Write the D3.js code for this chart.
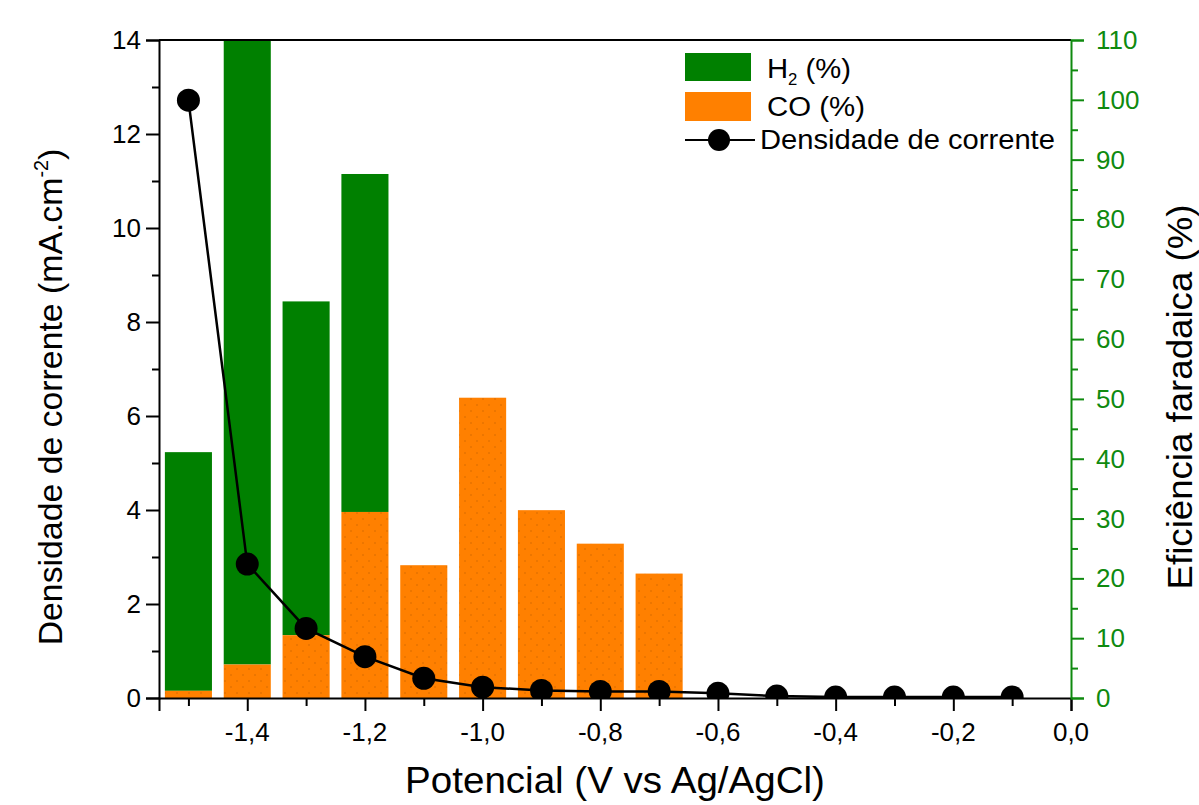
<!DOCTYPE html>
<html><head><meta charset="utf-8">
<script src="https://cdn.jsdelivr.net/npm/d3@7"></script>
<style>body{margin:0;background:#fff} svg{display:block} text{font-family:"Liberation Sans",Arial,sans-serif}</style>
</head><body><svg id="c" width="1199" height="805"></svg>
<script>
// ---- data ----
const potentials = [-1.5,-1.4,-1.3,-1.2,-1.1,-1.0,-0.9,-0.8,-0.7,-0.6,-0.5,-0.4,-0.3,-0.2,-0.1];
const density    = [12.72,2.85,1.48,0.88,0.42,0.23,0.16,0.14,0.14,0.10,0.04,0.02,0.02,0.02,0.02];
const barPotentials = [-1.5,-1.4,-1.3,-1.2,-1.1,-1.0,-0.9,-0.8,-0.7];
const coFE = [1.2,5.6,10.5,31.1,22.2,50.2,31.4,25.8,20.8];
const h2FE = [39.9,106,55.8,56.5,0,0,0,0,0];
const xTicks = [-1.4,-1.2,-1.0,-0.8,-0.6,-0.4,-0.2,0.0];
const xMinor = [-1.5,-1.3,-1.1,-0.9,-0.7,-0.5,-0.3,-0.1];
const yLeftTicks = [0,2,4,6,8,10,12,14];
const yLeftMinor = [1,3,5,7,9,11,13];
const yRightTicks = [0,10,20,30,40,50,60,70,80,90,100,110];
const yRightMinor = [5,15,25,35,45,55,65,75,85,95,105];

const GREEN = "#008000", ORANGE = "#ff8000", AXG = "#0f8a0f";
const FONT = '"Liberation Sans",Arial,sans-serif';
const m = {l:159, r:1071, t:40, b:698};
const svg = d3.select("#c");
const x  = d3.scaleLinear().domain([-1.55,0]).range([m.l,m.r]);
const yL = d3.scaleLinear().domain([0,14]).range([m.b,m.t]);
const yR = d3.scaleLinear().domain([0,110]).range([m.b,m.t]);

const defs = svg.append("defs");
defs.append("clipPath").attr("id","plot").append("rect")
  .attr("x",m.l).attr("y",m.t).attr("width",m.r-m.l).attr("height",m.b-m.t);
const pat = defs.append("pattern").attr("id","dots").attr("patternUnits","userSpaceOnUse")
  .attr("width",12).attr("height",12);
pat.append("rect").attr("width",12).attr("height",12).attr("fill",ORANGE);
pat.append("circle").attr("cx",3).attr("cy",3).attr("r",0.8).attr("fill","#d46a00");
pat.append("circle").attr("cx",9).attr("cy",9).attr("r",0.8).attr("fill","#d46a00");

const plot = svg.append("g").attr("clip-path","url(#plot)");
const bw = x(0.04) - x(0);
const bars = barPotentials.map((p,i)=>({p, co:coFE[i], h2:h2FE[i]}));
plot.selectAll("rect.h2").data(bars.filter(d=>d.h2>0)).join("rect")
  .attr("x",d=>x(d.p)-bw).attr("width",2*bw)
  .attr("y",d=>yR(d.co+d.h2)).attr("height",d=>yR(d.co)-yR(d.co+d.h2))
  .attr("fill",GREEN);
plot.selectAll("rect.co").data(bars).join("rect")
  .attr("x",d=>x(d.p)-bw).attr("width",2*bw)
  .attr("y",d=>yR(d.co)).attr("height",d=>yR(0)-yR(d.co))
  .attr("fill","url(#dots)");

const pts = potentials.map((p,i)=>({p, v:density[i]}));
plot.append("path").datum(pts)
  .attr("d", d3.line().x(d=>x(d.p)).y(d=>yL(d.v)))
  .attr("fill","none").attr("stroke","#000").attr("stroke-width",2.5);
plot.selectAll("circle.pt").data(pts).join("circle")
  .attr("cx",d=>x(d.p)).attr("cy",d=>yL(d.v)).attr("r",11.5).attr("fill","#000");

// ---- axes (ticks via d3.axis, labels drawn explicitly) ----
const fs = 26;
function styleAxis(g, color){
  g.selectAll("path.domain").attr("stroke",color).attr("stroke-width",2);
  g.selectAll(".tick line").attr("stroke",color).attr("stroke-width",2);
  g.selectAll(".tick text").remove();
}
const xfmt = d => d3.format(".1f")(d).replace("−","-").replace(".",",");
const gx = svg.append("g").attr("transform",`translate(0,${m.b})`)
  .call(d3.axisBottom(x).tickValues(xTicks).tickSize(13));
styleAxis(gx,"#000");
const gxm = svg.append("g").attr("transform",`translate(0,${m.b})`)
  .call(d3.axisBottom(x).tickValues(xMinor).tickSize(8));
styleAxis(gxm,"#000"); gxm.select("path.domain").remove();
svg.append("g").selectAll("text").data(xTicks).join("text")
  .attr("x",d=>x(d)).attr("y",m.b+43).attr("text-anchor","middle")
  .attr("font-family",FONT).attr("font-size",fs).attr("fill","#000").text(xfmt);

const gl = svg.append("g").attr("transform",`translate(${m.l},0)`)
  .call(d3.axisLeft(yL).tickValues(yLeftTicks).tickSize(13));
styleAxis(gl,"#000");
const glm = svg.append("g").attr("transform",`translate(${m.l},0)`)
  .call(d3.axisLeft(yL).tickValues(yLeftMinor).tickSize(7));
styleAxis(glm,"#000"); glm.select("path.domain").remove();
svg.append("g").selectAll("text").data(yLeftTicks).join("text")
  .attr("x",m.l-18).attr("y",d=>yL(d)+9).attr("text-anchor","end")
  .attr("font-family",FONT).attr("font-size",fs).attr("fill","#000").text(d=>d);

svg.append("line").attr("x1",m.l).attr("x2",m.r).attr("y1",m.t).attr("y2",m.t)
  .attr("stroke","#000").attr("stroke-width",2);

const gr = svg.append("g").attr("transform",`translate(${m.r},0)`)
  .call(d3.axisRight(yR).tickValues(yRightTicks).tickSize(13));
styleAxis(gr,AXG);
const grm = svg.append("g").attr("transform",`translate(${m.r},0)`)
  .call(d3.axisRight(yR).tickValues(yRightMinor).tickSize(7));
styleAxis(grm,AXG); grm.select("path.domain").remove();
svg.append("g").selectAll("text").data(yRightTicks).join("text")
  .attr("x",m.r+25).attr("y",d=>yR(d)+9).attr("text-anchor","start")
  .attr("font-family",FONT).attr("font-size",fs).attr("fill",AXG).text(d=>d);

// ---- titles ----
function fitText(g, width){
  const t = g.select("text");
  const w = t.node().getComputedTextLength();
  t.attr("transform",`scale(${width/w},1)`);
}
const gt = svg.append("g").attr("transform","translate(615,793)");
gt.append("text").attr("text-anchor","middle").attr("font-size",37).text("Potencial (V vs Ag/AgCl)");
fitText(gt,420);

const glt = svg.append("g").attr("transform","translate(62,397) rotate(-90)");
const tl = glt.append("text").attr("text-anchor","middle").attr("font-size",34);
tl.append("tspan").text("Densidade de corrente (mA.cm");
tl.append("tspan").attr("font-size",20).attr("dy",-14).text("-2");
tl.append("tspan").attr("dy",14).text(")");
fitText(glt,497);

const grt = svg.append("g").attr("transform","translate(1192,397) rotate(-90)");
grt.append("text").attr("text-anchor","middle").attr("font-size",35).text("Eficiência faradaica (%)");
fitText(grt,385);

// ---- legend ----
const lg = svg.append("g");
lg.append("rect").attr("x",685).attr("y",53).attr("width",66).attr("height",28).attr("fill",GREEN);
lg.append("rect").attr("x",685).attr("y",92).attr("width",66).attr("height",29).attr("fill",ORANGE);
lg.append("line").attr("x1",685).attr("x2",755).attr("y1",140).attr("y2",140).attr("stroke","#000").attr("stroke-width",2);
lg.append("circle").attr("cx",719).attr("cy",140).attr("r",11).attr("fill","#000");
const l1 = lg.append("g").attr("transform","translate(767,78)");
const t1 = l1.append("text").attr("font-size",28);
t1.append("tspan").text("H");
t1.append("tspan").attr("font-size",16).attr("dy",7).text("2");
t1.append("tspan").attr("dy",-7).text(" (%)");
fitText(l1,84);
const l2 = lg.append("g").attr("transform","translate(767,116)");
l2.append("text").attr("font-size",28).text("CO (%)");
fitText(l2,98);
const l3 = lg.append("g").attr("transform","translate(760,149)");
l3.append("text").attr("font-size",28).text("Densidade de corrente");
fitText(l3,295);
</script></body></html>
